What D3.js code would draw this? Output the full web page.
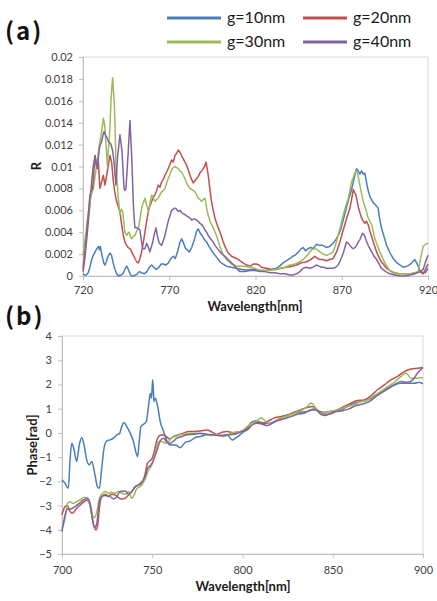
<!DOCTYPE html>
<html>
<head>
<meta charset="utf-8">
<script src="https://cdn.jsdelivr.net/npm/d3@7"></script>
<style>
  html, body { margin: 0; padding: 0; background: #fff; }
  svg { display: block; }
  .tick text { font-family: Lato, "Noto Sans", sans-serif; font-size: 11px; fill: #404040; }
</style>
</head>
<body>
<svg id="chart" width="437" height="601"></svg>
<script>
// ---- Series names and colours ----
const seriesNames = ["g=10nm", "g=20nm", "g=30nm", "g=40nm"];
const seriesColors = ["#4a7ebb", "#c0504d", "#9bbb59", "#8064a2"];

// ---- (a) Reflectance spectra: [wavelength nm, R] ----
const reflG10 = [[720,0.0002],[721,0.0001],[722,0.0001],[723,0.0003],[724,0.0008],[725,0.0015],[726,0.0019],[727,0.0022],[728,0.0025],[729,0.0027],[729.5,0.0024],[730,0.0027],[731,0.0019],[732,0.0012],[732.7,0.0010],[733.5,0.0013],[734.5,0.0018],[735.6,0.0021],[736.5,0.0019],[737.5,0.0012],[738.5,0.0006],[739.5,0.0002],[740.5,0.0000],[741.5,0.0001],[742.5,0.0001],[743.5,0.0003],[744.5,0.0007],[745.3,0.0009],[746.3,0.0006],[747.2,0.0002],[748.2,0.0000],[749.2,0.0000],[750.5,0.0001],[751.5,0.0002],[752.6,0.0004],[754,0.0003],[755.5,0.0002],[757,0.0004],[758.5,0.0008],[759.8,0.0010],[761,0.0008],[762.5,0.0006],[764,0.0008],[765.3,0.0011],[766.5,0.0011],[768,0.0010],[769.5,0.0012],[771,0.0016],[772.3,0.0018],[773.5,0.0016],[775,0.0023],[776,0.0030],[777.2,0.0034],[778.3,0.0030],[779.5,0.0025],[780.5,0.0024],[781.6,0.0022],[783,0.0026],[784.5,0.0033],[785.9,0.0041],[786.8,0.0043],[788,0.0039],[789,0.0037],[790,0.0034],[791.7,0.0031],[793,0.0027],[795.5,0.0021],[797.5,0.0017],[799.4,0.0013],[801,0.0011],[803.2,0.0009],[806,0.0008],[809,0.0007],[812,0.0006],[814.8,0.00055],[817,0.0006],[820,0.0006],[823,0.0005],[826,0.0005],[829,0.0006],[832,0.0007],[834,0.0009],[836,0.0012],[838,0.0014],[840,0.0016],[841.6,0.0018],[843,0.0019],[845,0.0022],[846.5,0.0025],[847.6,0.0026],[849,0.0023],[850.5,0.0025],[852,0.0026],[853.5,0.0025],[855.4,0.0029],[857,0.0028],[859,0.0028],[861.2,0.0026],[863,0.0027],[865,0.0030],[866.5,0.0033],[868,0.0037],[869.5,0.0043],[871,0.0052],[872.8,0.0063],[874,0.0070],[875.7,0.0079],[877,0.0088],[878,0.0095],[878.6,0.0098],[879.5,0.0096],[880.5,0.0093],[881.5,0.0096],[882.5,0.0093],[883.4,0.0094],[884.3,0.0086],[885.3,0.0078],[886.5,0.0072],[888.2,0.0067],[889.5,0.0065],[891.1,0.0062],[892,0.0052],[893,0.0044],[894.5,0.0036],[896,0.0028],[898,0.0021],[899.8,0.0016],[902,0.0012],[905.6,0.0008],[908,0.0009],[910,0.0011],[912.3,0.0015],[913.5,0.0012],[915.3,0.0005],[917,0.0003],[918.5,0.0003],[920,0.0007]];

const reflG20 = [[720,0.0004],[721,0.0015],[722,0.0031],[723,0.0048],[724,0.0065],[725,0.0085],[726,0.0101],[727,0.0110],[727.9,0.0098],[728.8,0.0107],[729.8,0.0080],[730.8,0.0086],[731.8,0.0092],[732.7,0.0083],[733.7,0.0092],[734.6,0.0100],[735.6,0.0110],[736.6,0.0104],[737.6,0.0086],[738.5,0.0076],[739.5,0.0068],[740.5,0.0063],[741.4,0.0059],[742.4,0.0047],[743.4,0.0037],[744.3,0.0031],[745.3,0.0028],[746.2,0.0026],[747.2,0.0025],[748.2,0.0022],[749.2,0.0019],[750.1,0.0016],[751.1,0.0013],[752.1,0.0012],[753,0.0016],[754,0.0022],[755,0.0031],[755.9,0.0040],[756.9,0.0050],[757.9,0.0059],[758.8,0.0064],[759.8,0.0068],[760.8,0.0072],[761.7,0.0074],[762.7,0.0078],[763.6,0.0083],[764.6,0.0081],[765.6,0.0086],[766.5,0.0088],[767.5,0.0092],[768.5,0.0095],[769.4,0.0098],[770.4,0.0102],[771.4,0.0106],[772.3,0.0104],[773.3,0.0110],[774.3,0.0112],[775.2,0.0115],[776.2,0.0113],[777.1,0.0110],[778.1,0.0107],[779.1,0.0104],[780.1,0.0101],[781,0.0097],[782,0.0092],[783,0.0088],[783.9,0.0085],[784.9,0.0087],[785.9,0.0089],[786.8,0.0091],[787.8,0.0094],[788.8,0.0096],[789.7,0.0098],[790.5,0.0100],[791.3,0.0104],[792,0.0098],[792.6,0.0092],[793.5,0.0080],[794.5,0.0068],[795.5,0.0060],[796.5,0.0053],[797.5,0.0048],[798.4,0.0044],[799.4,0.0040],[800.3,0.0036],[801.3,0.0031],[802.3,0.0027],[803.2,0.0024],[804.2,0.0021],[806.1,0.0018],[809,0.0016],[811.9,0.0013],[814.8,0.0010],[817,0.0009],[819,0.0011],[820.6,0.0011],[822,0.0010],[823.5,0.0008],[826.4,0.0007],[829,0.0006],[832.2,0.0006],[835,0.0007],[838,0.0008],[841,0.0009],[843.8,0.0010],[846.5,0.0012],[849.6,0.0013],[852,0.0015],[854.4,0.0018],[856,0.0016],[857.3,0.0015],[859,0.0015],[861.2,0.0014],[863,0.0015],[865,0.0016],[867,0.0022],[868.9,0.0031],[870.3,0.0039],[871.8,0.0047],[873.3,0.0055],[874.7,0.0062],[875.7,0.0070],[876.7,0.0079],[877.5,0.0076],[878.2,0.0074],[879,0.0068],[879.6,0.0063],[880.5,0.0058],[881.5,0.0053],[882.5,0.0050],[883.4,0.0048],[884.3,0.0050],[885.3,0.0047],[886.3,0.0041],[887.3,0.0036],[888.7,0.0029],[890.2,0.0022],[891.6,0.0017],[893,0.0013],[894.5,0.0010],[896,0.0007],[898,0.0005],[899.8,0.0003],[902.7,0.0002],[905.6,0.0002],[908.5,0.0002],[911.4,0.0002],[913.3,0.0003],[915.3,0.0004],[917.2,0.0002],[918.8,0.0007],[920,0.0011]];

const reflG30 = [[720,0.0019],[721,0.0031],[722,0.0044],[723,0.0056],[724,0.0068],[725,0.0075],[726,0.0080],[727,0.0091],[727.9,0.0101],[728.7,0.0110],[729.5,0.0120],[730.2,0.0126],[730.8,0.0132],[731.3,0.0138],[731.8,0.0144],[732.3,0.0140],[732.7,0.0135],[733.4,0.0118],[734.1,0.0101],[734.7,0.0115],[735.3,0.0126],[735.8,0.0142],[736.2,0.0159],[736.7,0.0172],[737.2,0.0181],[737.7,0.0168],[738.2,0.0156],[738.7,0.0130],[739.1,0.0101],[739.8,0.0085],[740.5,0.0071],[741.4,0.0056],[742.2,0.0061],[743,0.0059],[743.7,0.0048],[744.3,0.0040],[745.3,0.0037],[746,0.0039],[746.8,0.0040],[747.5,0.0036],[748.2,0.0034],[749.2,0.0036],[750.1,0.0037],[751.1,0.0041],[752.1,0.0044],[753,0.0052],[754,0.0062],[755,0.0067],[755.9,0.0071],[756.9,0.0065],[757.9,0.0059],[758.8,0.0066],[759.8,0.0074],[760.8,0.0071],[761.7,0.0068],[762.7,0.0070],[763.6,0.0071],[764.6,0.0074],[765.6,0.0077],[766.5,0.0078],[767.5,0.0080],[768.5,0.0085],[769.4,0.0089],[770.4,0.0093],[771.4,0.0097],[772.3,0.0099],[773.3,0.0100],[774.3,0.0099],[775.2,0.0098],[776.2,0.0096],[777.2,0.0095],[778.1,0.0092],[779.1,0.0089],[780,0.0085],[781,0.0082],[782,0.0080],[783,0.0079],[784,0.0078],[784.9,0.0077],[785.9,0.0074],[786.8,0.0071],[787.8,0.0070],[788.8,0.0068],[789.7,0.0070],[790.7,0.0071],[791.4,0.0065],[792,0.0059],[793.6,0.0050],[795.5,0.0044],[797.4,0.0037],[799.4,0.0027],[801.3,0.0019],[803.2,0.0015],[806.1,0.0011],[809,0.0009],[812.9,0.0009],[816.8,0.0008],[819.7,0.0007],[822.6,0.0005],[825.5,0.0005],[828.4,0.0005],[831.3,0.0006],[834.2,0.0007],[837,0.0008],[840,0.0010],[843,0.0011],[845.7,0.0013],[847.6,0.0015],[849.6,0.0018],[851,0.0021],[852.5,0.0024],[854.4,0.0025],[856,0.0024],[857.3,0.0022],[859.2,0.0020],[861.2,0.0019],[863,0.0020],[865,0.0022],[866.5,0.0029],[867.9,0.0037],[869.4,0.0046],[870.9,0.0056],[872.3,0.0064],[873.8,0.0071],[874.8,0.0079],[875.7,0.0086],[876.7,0.0090],[877.6,0.0094],[878.3,0.0096],[879,0.0095],[879.8,0.0089],[880.5,0.0083],[881.5,0.0075],[882.5,0.0068],[883.9,0.0061],[885.3,0.0053],[886.3,0.0050],[887.3,0.0047],[888.2,0.0041],[889.2,0.0034],[890.6,0.0028],[892.1,0.0022],[893.5,0.0017],[895,0.0012],[896.5,0.0008],[897.9,0.0005],[900.8,0.0003],[903.7,0.0002],[906.6,0.0002],[909.5,0.0002],[912,0.0003],[914.3,0.0004],[915.7,0.0016],[917.2,0.0027],[918.6,0.0029],[920,0.0030]];

const reflG40 = [[720,0.0007],[721,0.0021],[722,0.0037],[723,0.0055],[724,0.0074],[724.8,0.0078],[725.6,0.0080],[726.3,0.0095],[727,0.0110],[727.6,0.0104],[728.3,0.0098],[728.9,0.0108],[729.5,0.0117],[730.2,0.0120],[730.8,0.0123],[731.5,0.0128],[732.2,0.0132],[732.8,0.0130],[733.3,0.0128],[734,0.0126],[734.7,0.0123],[735.3,0.0122],[736,0.0121],[736.6,0.0118],[737.2,0.0114],[737.7,0.0108],[738.2,0.0101],[738.6,0.0092],[739.1,0.0083],[739.6,0.0097],[740.1,0.0110],[740.8,0.0120],[741.4,0.0129],[742,0.0122],[742.6,0.0114],[743.2,0.0097],[743.8,0.0080],[744.4,0.0078],[744.9,0.0080],[745.5,0.0095],[746.1,0.0110],[746.7,0.0127],[747.2,0.0142],[747.7,0.0126],[748.2,0.0110],[748.7,0.0088],[749.2,0.0065],[749.7,0.0052],[750.1,0.0044],[751.5,0.0044],[753,0.0042],[753.8,0.0033],[754.6,0.0025],[755.9,0.0025],[756.9,0.0030],[757.9,0.0026],[758.8,0.0022],[760.4,0.0031],[761.3,0.0038],[762.3,0.0044],[763.2,0.0036],[764.2,0.0030],[765.6,0.0028],[766.5,0.0032],[767.5,0.0037],[768.5,0.0044],[769.4,0.0050],[770.4,0.0055],[771.4,0.0060],[772.3,0.0061],[773.3,0.0062],[774.3,0.0061],[775.2,0.0059],[776.2,0.0060],[777.2,0.0058],[778.1,0.0057],[779.1,0.0056],[780,0.0055],[781,0.0054],[782,0.0053],[783,0.0051],[783.9,0.0052],[784.9,0.0052],[785.9,0.0051],[786.8,0.0050],[787.8,0.0048],[788.8,0.0047],[789.7,0.0045],[790.7,0.0042],[791.6,0.0040],[792.6,0.0037],[793.5,0.0035],[794.5,0.0033],[795.5,0.0031],[796.5,0.0028],[798,0.0025],[799.4,0.0022],[800.8,0.0020],[802.3,0.0018],[804.2,0.0015],[806.1,0.0012],[807.5,0.0010],[809,0.0007],[810.9,0.0004],[813.8,0.0004],[816.8,0.0005],[819.7,0.0005],[822.6,0.0004],[825.5,0.0004],[828.4,0.0003],[831.3,0.0003],[834.2,0.0002],[837,0.0002],[840,0.0001],[841.9,0.0001],[843.8,0.0002],[845.7,0.0004],[847.6,0.0007],[849.5,0.0008],[851.5,0.0007],[853.4,0.0008],[855.4,0.0010],[856.8,0.0009],[858.3,0.0008],[859.7,0.0008],[861.2,0.0007],[863,0.0007],[865,0.0007],[866.5,0.0008],[867.9,0.0010],[869.4,0.0015],[870.9,0.0021],[871.8,0.0026],[872.8,0.0031],[873.7,0.0030],[874.7,0.0028],[875.7,0.0026],[876.7,0.0025],[877.6,0.0026],[878.6,0.0028],[879.5,0.0031],[880.5,0.0033],[881.2,0.0036],[882,0.0039],[882.7,0.0038],[883.4,0.0036],[884.3,0.0032],[885.3,0.0028],[886.3,0.0025],[887.3,0.0022],[888.7,0.0018],[890.2,0.0015],[891.6,0.0011],[893,0.0007],[895.5,0.0004],[897.9,0.0002],[900.8,0.0001],[903.7,0.0000],[906.6,0.0000],[909.5,0.0001],[912.4,0.0002],[915.3,0.0004],[917.2,0.0006],[918.6,0.0013],[920,0.0019]];

// ---- (b) Phase spectra: [wavelength nm, phase rad] ----
const phaseG10 = [[700,-1.94],[701.7,-2.08],[703.5,-2.29],[704.4,-1.18],[705.4,-0.43],[706.7,-0.70],[708.1,-1.18],[709.6,-0.50],[710.9,-0.19],[712.2,-0.50],[713.7,-1.12],[715.2,-1.32],[716.5,-1.18],[718.3,-1.74],[719.6,-2.22],[720.7,-2.29],[722,-1.46],[723.3,-0.63],[724.8,-0.33],[726.7,-0.29],[728.5,-0.22],[730.4,-0.08],[731.9,-0.03],[733.1,0.26],[734.4,0.43],[735.9,0.26],[737.8,-0.01],[739.6,-0.36],[741.1,-0.84],[741.9,-0.98],[742.6,-0.50],[743.7,0.26],[745.2,0.36],[746.7,0.47],[748,1.16],[748.9,1.64],[749.6,1.43],[750.2,2.19],[750.6,1.85],[750.9,1.29],[751.7,1.43],[753,1.09],[754.4,0.47],[756.3,0.06],[758.1,-0.33],[760,-0.50],[762.8,-0.50],[765.6,-0.61],[768.3,-0.39],[771.1,-0.33],[773.9,-0.19],[776.7,-0.15],[780.4,-0.08],[784.1,-0.08],[787.8,-0.11],[791.5,-0.08],[794.3,-0.29],[796.1,-0.22],[798.9,-0.06],[801.7,0.12],[804.4,0.40],[807.2,0.50],[810,0.44],[812.8,0.40],[815.6,0.40],[818.3,0.50],[821.1,0.61],[824.8,0.72],[828.5,0.81],[832.2,0.85],[835.9,0.88],[839.6,0.99],[842.4,0.88],[845.2,0.85],[848,0.88],[850.7,0.91],[854.4,0.95],[858.1,1.09],[861.9,1.23],[865.6,1.29],[869.3,1.36],[873,1.50],[876.7,1.68],[880.4,1.85],[884.1,1.98],[887.8,2.05],[891.5,2.05],[895.2,2.05],[898,2.09],[900,2.02]];

const phaseG20 = [[700,-3.39],[701.7,-3.04],[703,-3.00],[704.4,-3.25],[705.9,-3.32],[707.8,-3.14],[710,-2.98],[712.2,-2.84],[713.7,-2.77],[715.2,-2.91],[716.5,-3.39],[717.8,-3.87],[718.9,-4.01],[719.8,-3.80],[720.7,-3.11],[722,-2.63],[723.9,-2.53],[725.7,-2.63],[727.6,-2.53],[729.4,-2.56],[731.3,-2.67],[733.1,-2.73],[735,-2.70],[736.9,-2.56],[738.7,-2.42],[740.6,-2.22],[742.4,-2.15],[744.3,-2.08],[746.1,-1.67],[747.4,-1.25],[748.5,-1.16],[749.8,-1.07],[751.1,-0.77],[752.6,-0.29],[754.1,-0.11],[755.9,-0.08],[757.8,-0.15],[759.6,-0.25],[761.9,-0.15],[764.6,-0.08],[767.4,-0.01],[770.2,0.06],[773,0.06],[776.7,0.08],[780.4,0.12],[783.1,0.03],[785.9,-0.06],[788.7,0.03],[791.5,0.06],[795.2,-0.01],[798.9,0.06],[802.6,0.17],[805.4,0.44],[808.1,0.44],[811.9,0.40],[814.6,0.50],[817.4,0.61],[821.1,0.67],[824.8,0.74],[828.5,0.85],[832.2,0.95],[835.9,1.05],[838.7,1.09],[841.5,0.95],[844.3,0.81],[847,0.77],[849.8,0.81],[852.6,0.95],[856.3,1.09],[860,1.23],[863.7,1.34],[867.4,1.36],[871.1,1.53],[874.8,1.78],[878.5,1.98],[882.2,2.19],[885.9,2.33],[889.6,2.53],[893.3,2.64],[897,2.67],[900,2.70]];

const phaseG30 = [[700,-3.94],[701.7,-3.53],[703,-2.91],[704.4,-2.84],[706.3,-2.91],[708.1,-2.84],[710,-2.77],[712.2,-2.67],[714.1,-2.70],[715.6,-2.98],[716.9,-3.39],[718,-3.50],[719.3,-3.25],[720.7,-2.70],[722,-2.53],[723.9,-2.42],[725.7,-2.49],[727.6,-2.45],[729.4,-2.49],[731.3,-2.42],[733.1,-2.49],[735,-2.53],[736.9,-2.42],[738.7,-2.70],[740,-2.56],[741.5,-2.29],[743.3,-2.22],[744.8,-2.08],[746.3,-1.87],[748,-1.53],[749.8,-1.32],[751.7,-0.84],[753.5,-0.36],[755.4,-0.36],[757.2,-0.43],[759.1,-0.36],[760.9,-0.19],[762.8,-0.15],[765.6,-0.08],[768.3,-0.06],[771.1,-0.01],[774.8,-0.01],[778.5,-0.06],[782.2,-0.11],[785.9,-0.08],[789.6,-0.15],[792.4,-0.06],[795.2,0.03],[798.9,0.06],[802.6,0.26],[805.4,0.40],[808.1,0.50],[810.4,0.63],[812.8,0.47],[815.6,0.36],[818.3,0.50],[821.1,0.61],[824.8,0.70],[828.5,0.81],[832.2,0.91],[835.9,1.09],[838.1,1.23],[840.6,1.02],[843.3,0.81],[847,0.85],[850.7,0.91],[854.4,0.99],[858.1,1.09],[861.9,1.16],[865.6,1.29],[869.3,1.36],[873,1.54],[876.7,1.71],[880.4,1.91],[884.1,2.09],[887.8,2.33],[890.6,2.47],[893.3,2.26],[897,2.26],[900,2.29]];

const phaseG40 = [[700,-4.08],[701.7,-3.39],[703,-3.14],[704.8,-3.14],[707.2,-3.04],[709.6,-2.91],[711.9,-2.77],[714.1,-2.70],[715.6,-2.91],[716.9,-3.60],[718.1,-3.91],[719.3,-3.73],[720.7,-2.84],[722,-2.63],[723.9,-2.59],[726.7,-2.63],[728.5,-2.73],[730.4,-2.63],[732.2,-2.42],[735,-2.40],[736.9,-2.53],[738.7,-2.42],[740.6,-2.22],[742.4,-2.15],[744.3,-2.01],[746.1,-1.80],[747.4,-1.46],[748.9,-1.35],[750.4,-1.18],[751.7,-0.91],[753,-0.63],[754.4,-0.33],[756.3,-0.22],[758.1,-0.39],[760,-0.43],[761.9,-0.33],[763.7,-0.22],[766.5,-0.15],[769.3,-0.08],[773,-0.06],[776.7,-0.01],[780.4,-0.06],[784.1,-0.08],[787.8,-0.11],[791.5,-0.08],[795.2,-0.06],[798.9,0.03],[802.6,0.12],[805.4,0.33],[808.1,0.40],[810.9,0.36],[813.7,0.30],[816.5,0.40],[819.3,0.50],[823,0.58],[826.7,0.67],[830.4,0.77],[834.1,0.81],[837.8,0.95],[840.6,0.95],[843.3,0.77],[846.1,0.72],[848.9,0.81],[851.7,0.88],[855.4,0.91],[859.1,0.99],[862.8,1.13],[866.5,1.19],[870.2,1.29],[873.9,1.50],[877.6,1.68],[881.3,1.85],[885,2.03],[887.8,2.12],[891.5,2.09],[894.3,2.19],[897,2.47],[900,2.70]];

// ---- Tick values ----
const reflXTicks = [720, 770, 820, 870, 920];
const reflYTicks = [0, 0.002, 0.004, 0.006, 0.008, 0.01, 0.012, 0.014, 0.016, 0.018, 0.02];
const phaseXTicks = [700, 750, 800, 850, 900];
const phaseYTicks = [-5, -4, -3, -2, -1, 0, 1, 2, 3, 4];

const svg = d3.select("#chart");
const axisGrey = "#bfbfbf";
const labelFont = "Lato, 'Noto Sans', sans-serif";

function drawPanel(opts) {
  const { x, y, series, xTicks, yTicks, yFormat, xTitle, yTitle, curve, xTitlePos, yTitlePos, xPad, yPad } = opts;
  const g = svg.append("g");
  const [x0, x1] = x.range();
  const [y0, y1] = y.range();

  // plot-area frame
  g.append("rect")
    .attr("x", x0).attr("y", y1)
    .attr("width", x1 - x0).attr("height", y0 - y1)
    .attr("fill", "none").attr("stroke", "#d9d9d9").attr("stroke-width", 1);

  const xAxis = g.append("g")
    .attr("transform", `translate(0,${y0})`)
    .call(d3.axisBottom(x).tickValues(xTicks).tickSize(4).tickPadding(xPad).tickFormat(d3.format("d")));
  const yAxis = g.append("g")
    .attr("transform", `translate(${x0},0)`)
    .call(d3.axisLeft(y).tickValues(yTicks).tickSize(4).tickPadding(yPad).tickFormat(yFormat));
  [xAxis, yAxis].forEach(a => {
    a.select(".domain").attr("stroke", axisGrey);
    a.selectAll(".tick line").attr("stroke", axisGrey);
  });

  const line = d3.line().x(d => x(d[0])).y(d => y(d[1])).curve(curve);
  g.append("g").selectAll("path")
    .data(series)
    .join("path")
    .attr("d", d => line(d))
    .attr("fill", "none")
    .attr("stroke", (d, i) => seriesColors[i])
    .attr("stroke-width", 1.5)
    .attr("stroke-linejoin", "round");

  g.append("text")
    .attr("x", xTitlePos[0]).attr("y", xTitlePos[1])
    .attr("text-anchor", "middle")
    .attr("font-family", labelFont).attr("font-weight", "bold").attr("font-size", 13)
    .attr("fill", "#1a1a1a")
    .text(xTitle);
  g.append("text")
    .attr("transform", `translate(${yTitlePos[0]},${yTitlePos[1]}) rotate(-90)`)
    .attr("text-anchor", "middle")
    .attr("font-family", labelFont).attr("font-weight", "bold").attr("font-size", 13)
    .attr("fill", "#1a1a1a")
    .text(yTitle);
}

// (a) reflectance
drawPanel({
  x: d3.scaleLinear().domain([720, 920]).range([83, 428]),
  y: d3.scaleLinear().domain([0, 0.02]).range([276, 57]),
  series: [reflG10, reflG20, reflG30, reflG40],
  xTicks: reflXTicks, yTicks: reflYTicks,
  yFormat: d => String(+d.toFixed(3)),
  xTitle: "Wavelength[nm]", yTitle: "R",
  curve: d3.curveLinear,
  xTitlePos: [255, 311], yTitlePos: [41, 166],
  xPad: 6, yPad: 6
});

// (b) phase
drawPanel({
  x: d3.scaleLinear().domain([700, 900]).range([62, 423]),
  y: d3.scaleLinear().domain([-5, 4]).range([554, 336]),
  series: [phaseG10, phaseG20, phaseG30, phaseG40],
  xTicks: phaseXTicks, yTicks: phaseYTicks,
  yFormat: d3.format("d"),
  xTitle: "Wavelength[nm]", yTitle: "Phase[rad]",
  curve: d3.curveMonotoneX,
  xTitlePos: [243, 591], yTitlePos: [37, 445],
  xPad: 8, yPad: 6
});

// panel letters
[["(a)", 40], ["(b)", 325]].forEach(([label, baseline]) => {
  svg.append("text").attr("x", 5).attr("y", baseline)
    .attr("font-family", "'Noto Sans CJK JP', 'Noto Sans', sans-serif")
    .attr("font-size", 24).attr("font-weight", 700).attr("letter-spacing", 2)
    .attr("fill", "#111")
    .text(label);
});

// legend (two rows of two entries)
const legendItems = seriesNames.map((name, i) => ({ name, color: seriesColors[i], col: i % 2, row: Math.floor(i / 2) }));
const legend = svg.append("g");
const legendCols = [167, 303];
const legendRows = [18, 42];
legendItems.forEach(it => {
  const lx = legendCols[it.col], ly = legendRows[it.row];
  const lw = it.col === 0 ? 54 : 44;
  legend.append("line")
    .attr("x1", lx).attr("x2", lx + lw).attr("y1", ly).attr("y2", ly)
    .attr("stroke", it.color).attr("stroke-width", 3);
  legend.append("text")
    .attr("x", lx + lw + 6).attr("y", ly + 5)
    .attr("font-family", labelFont).attr("font-size", 16).attr("fill", "#1a1a1a")
    .text(it.name);
});
</script>
</body>
</html>
